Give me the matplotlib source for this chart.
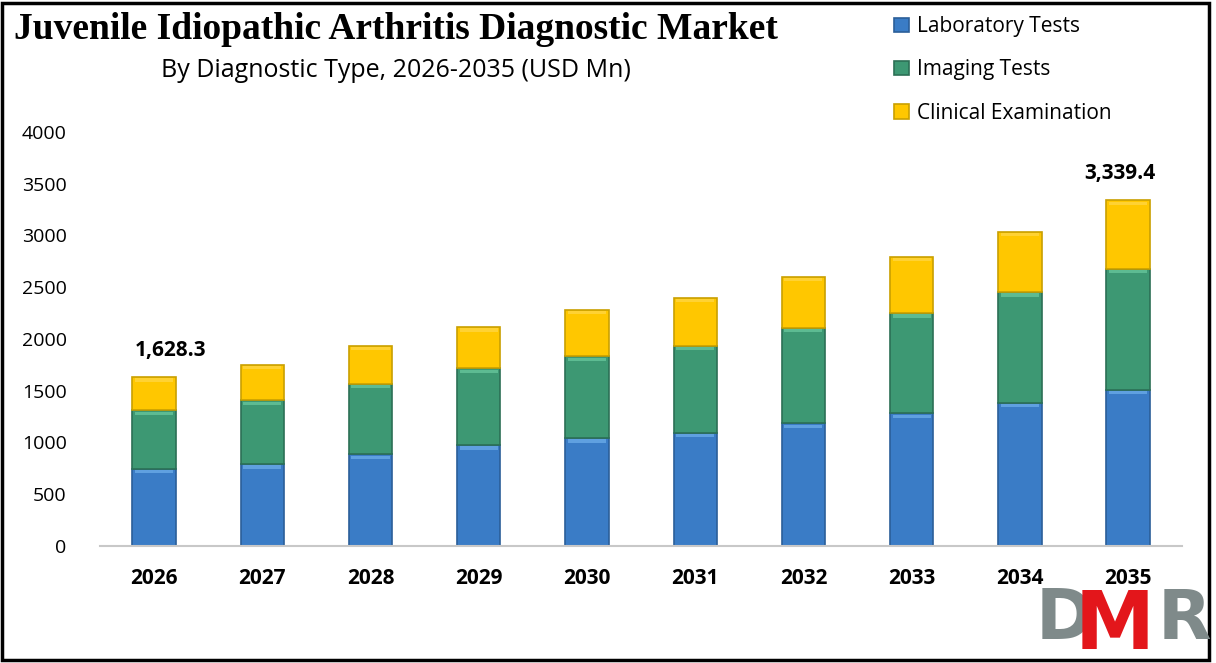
import matplotlib.pyplot as plt
from matplotlib.patches import Rectangle
import numpy as np

years = ['2026', '2027', '2028', '2029', '2030', '2031', '2032', '2033', '2034', '2035']
laboratory = [745, 787, 883, 971, 1039, 1089, 1182, 1279, 1378, 1508]
imaging = [563, 617, 683, 742, 790, 846, 927, 968, 1072, 1168]
clinical = [320.3, 345, 369, 399, 454, 464, 492, 547, 586, 663.4]
labels = ['Laboratory Tests', 'Imaging Tests', 'Clinical Examination']
colors = ['#3A7CC6', '#3D9873', '#FFC700']
edges = ['#2B5F99', '#2C7055', '#C9A000']
lights = ['#6FB0EC', '#6CCBA0', '#FFD84A']

fig = plt.figure(figsize=(12.16, 6.63), dpi=100)
ax = fig.add_axes([0.0822, 0.177, 0.89, 0.624])

x = np.arange(len(years))
w = 0.4
bottom = np.zeros(len(years))
handles = []
for vals, c, e, lc, lab in zip([laboratory, imaging, clinical], colors, edges, lights, labels):
    vals = np.array(vals, dtype=float)
    h = ax.bar(x, vals, w, bottom=bottom, color=c, edgecolor=e, linewidth=1.2, label=lab, zorder=2)
    # light bevel strip at the top of each segment
    ax.bar(x, np.full(len(years), 30.0), w * 0.88, bottom=bottom + vals - 42, color=lc,
           linewidth=0, zorder=3, alpha=0.7)
    handles.append(h)
    bottom += vals

totals = bottom
for i in [0, len(years) - 1]:
    ax.annotate(f'{totals[i]:,.1f}', (x[i], totals[i]), xytext=(12 if i == 0 else -6, 12),
                textcoords='offset points', ha='center', va='bottom',
                fontsize=15, fontweight='bold', family='Open Sans')

ax.set_xlim(-0.5, len(years) - 0.5)
ax.set_ylim(0, 4000)
ax.set_yticks(range(0, 4001, 500))
ax.set_xticks(x)
ax.set_xticklabels(years, fontsize=15, fontweight='bold', family='Open Sans')
for t in ax.get_yticklabels():
    t.set_fontsize(14)
    t.set_family('Open Sans')
for s in ['top', 'right', 'left']:
    ax.spines[s].set_visible(False)
ax.spines['bottom'].set_color('#C8C8C8')
ax.spines['bottom'].set_linewidth(1.5)
ax.tick_params(axis='both', length=0)
ax.tick_params(axis='x', pad=16)
ax.tick_params(axis='y', pad=24)

fig.text(0.326, 0.955, 'Juvenile Idiopathic Arthritis Diagnostic Market', ha='center', va='center',
         fontsize=27, fontweight='bold', family='Liberation Serif')
fig.text(0.326, 0.894, 'By Diagnostic Type, 2026-2035 (USD Mn)', ha='center', va='center',
         fontsize=18, family='Open Sans')

fig.legend(handles, labels, loc='upper left', bbox_to_anchor=(0.72, 1.004), frameon=False,
           prop={'family': 'Open Sans', 'size': 15}, handlelength=0.7, handleheight=0.7,
           handletextpad=0.4, labelspacing=1.07)

# frame around the picture
fig.patches.append(Rectangle((0.002, 0.004), 0.992, 0.992, transform=fig.transFigure,
                             fill=False, edgecolor='black', linewidth=2.5))

# DMR logo
fig.text(0.852, 0.015, 'D', color='#7F8A8A', fontsize=50, fontweight='bold', family='DejaVu Sans',
         ha='left', va='bottom')
fig.text(0.884, -0.005, 'M', color='#E3161B', fontsize=58, fontweight='bold', family='DejaVu Sans',
         ha='left', va='bottom')
fig.text(0.952, 0.015, 'R', color='#7F8A8A', fontsize=50, fontweight='bold', family='DejaVu Sans',
         ha='left', va='bottom')

fig.savefig('out.png', dpi=100)
